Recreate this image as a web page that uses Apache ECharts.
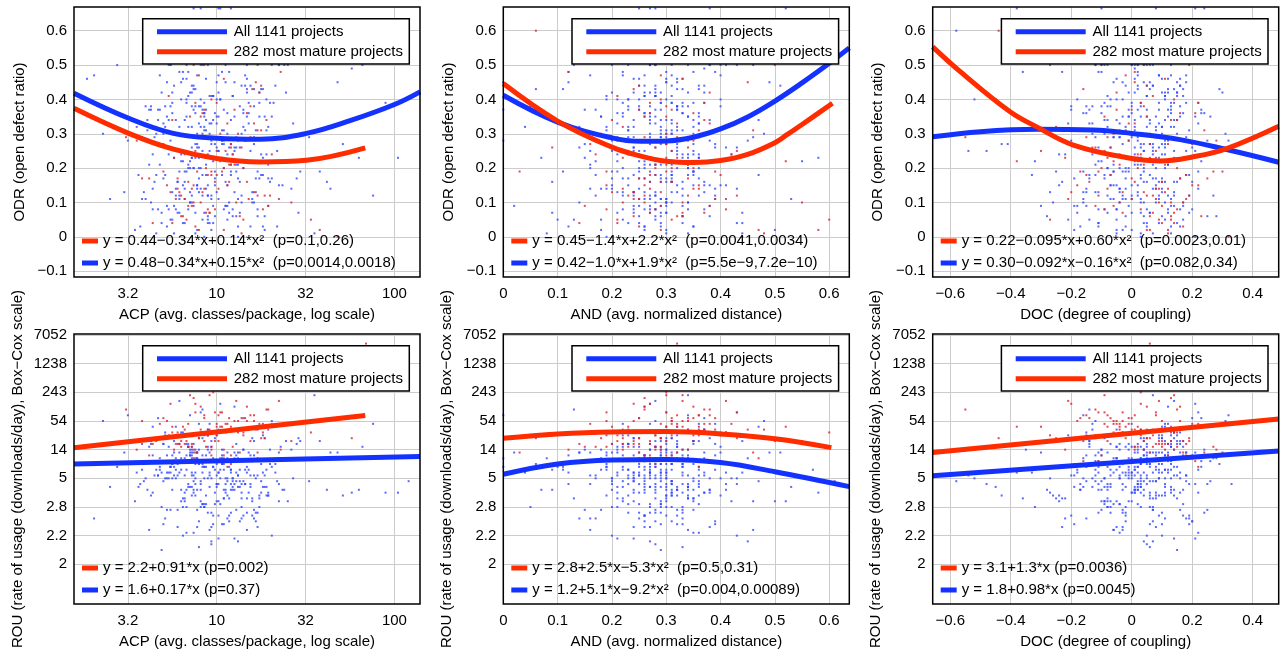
<!DOCTYPE html>
<html><head><meta charset="utf-8">
<script src="https://cdn.jsdelivr.net/npm/echarts@6.0.0/dist/echarts.min.js"></script>
<style>html,body{margin:0;padding:0;background:#fff}#c{width:1285px;height:655px}</style>
</head><body><div id="c"></div>
<script>
// ---------------- tick labels ----------------
const acpTickValues = [0.5, 1, 1.5, 2];
const acpTickLabels = ['3.2', '10', '32', '100'];
const andTickValues = [0, 0.1, 0.2, 0.3, 0.4, 0.5, 0.6];
const andTickLabels = ['0', '0.1', '0.2', '0.3', '0.4', '0.5', '0.6'];
const docTickValues = [-0.6, -0.4, -0.2, 0, 0.2, 0.4];
const docTickLabels = ['\u22120.6', '\u22120.4', '\u22120.2', '0', '0.2', '0.4'];
const odrTickValues = [-0.1, 0, 0.1, 0.2, 0.3, 0.4, 0.5, 0.6];
const odrTickLabels = ['\u22120.1', '0', '0.1', '0.2', '0.3', '0.4', '0.5', '0.6'];
const rouTickValues = [0, 1, 2, 3, 4, 5, 6, 7, 8];
const rouTickLabels = ['2', '2.2', '2.8', '5', '14', '54', '243', '1238', '7052'];

// ---------------- projects: all (blue) ----------------
// ACP as log10(classes/package); ROU in Box-Cox tick units
const blueACP = [
0.92,1.08,0.75,1.21,0.98,0.66,1.35,0.87,1.03,0.81,1.14,0.95,0.71,1.27,0.89,1.01,0.58,1.18,0.84,0.97,
1.11,0.78,0.93,1.42,0.69,1.06,0.88,1.24,0.99,0.73,1.16,0.85,1.31,0.62,0.94,1.09,0.79,1.19,0.91,0.48,
1.04,0.83,1.26,0.96,0.72,1.13,0.86,1.82,0.64,1.00,0.90,1.22,0.77,1.07,0.82,1.52,0.95,0.68,1.15,0.87,
0.99,1.29,0.74,1.05,0.89,1.18,0.56,0.93,1.10,0.80,1.33,0.97,0.70,1.02,0.84,1.23,0.91,0.65,1.12,1.76,
0.86,1.06,0.76,1.20,0.94,0.61,1.39,0.88,1.01,0.79,1.17,0.96,0.72,1.28,0.90,1.04,0.27,1.14,0.83,0.98,
1.09,0.77,0.92,1.45,0.67,1.08,0.85,1.25,1.00,0.74,1.15,0.87,1.32,0.63,0.95,1.11,0.81,1.21,0.89,0.36,
1.03,0.82,1.27,0.97,0.31,1.12,0.88,1.36,0.66,0.99,0.91,1.23,0.78,1.06,0.84,1.58,0.93,0.69,1.16,0.86,
1.00,1.30,0.75,1.04,0.90,1.19,0.59,0.94,1.08,0.81,1.34,0.96,0.70,1.02,0.85,1.24,0.92,0.64,1.13,1.95,
0.87,1.05,0.77,1.22,0.95,0.60,1.71,0.89,1.02,0.80,1.17,0.98,0.73,1.26,0.91,1.03,0.54,1.15,0.82,0.97,
1.10,0.79,0.93,1.47,0.68,1.07,0.86,1.26,1.01,0.75,1.14,0.88,1.31,0.62,0.96,1.10,0.80,1.20,0.90,0.44,
1.05,0.83,1.28,0.95,0.72,1.11,0.87,1.88,0.65,1.00,0.92,1.21,0.76,1.08,0.83,1.64,0.94,0.67,1.17,0.85,
0.98,1.29,0.74,1.03,0.89,1.18,0.57,0.92,1.09,0.82,1.35,0.97,0.71,1.01,0.86,1.25,0.93,0.63,1.12,2.08,
0.94,1.13,0.79,1.02,0.86,1.20,0.70,0.97,1.07,0.83,1.29,0.91,0.76,1.04,0.88,1.17,0.60,1.00,1.11,0.81,
1.06,0.89,1.24,0.73,0.99,1.15,0.85,1.38,0.95,0.67,1.09,0.92,1.30,0.78,1.03,0.87,1.21,0.55,1.14,1.68,
0.90,1.01,0.80,1.19,0.96,0.71,1.33,0.84,1.05,0.93,1.12,0.77,1.26,0.88,0.99,1.43,0.74,1.08,0.86,0.40,
1.02,0.82,1.16,0.95,0.69,1.10,0.91,1.27,0.79,1.04,0.87,1.22,0.63,0.98,1.13,0.85,1.35,0.93,0.72,1.80,
0.97,1.09,0.75,1.23,0.89,1.00,0.66,1.18,0.83,1.06,0.94,1.31,0.78,1.01,0.88,1.14,0.58,1.25,0.92,1.55,
1.08,0.86,1.20,0.97,0.73,1.11,0.90,1.37,0.81,1.03,0.95,1.17,0.68,1.05,0.84,1.28,0.99,0.76,1.12,0.50,
0.93,1.04,0.82,1.21,0.98,0.64,1.34,0.87,1.07,0.91,1.15,0.79,1.24,0.85,1.00,1.46,0.75,1.10,0.89,2.02,
1.01,0.84,1.19,0.94,0.70,1.12,0.88,1.29,0.80,1.06,0.92,1.23,0.61,0.96,1.16,0.86,1.40,0.90,0.74,1.62];
const blueAND = [
0.27,0.31,0.22,0.35,0.19,0.29,0.41,0.25,0.33,0.17,0.28,0.37,0.23,0.30,0.14,0.26,0.39,0.21,0.32,0.45,
0.24,0.29,0.36,0.18,0.27,0.33,0.08,0.31,0.25,0.43,0.20,0.34,0.28,0.16,0.30,0.38,0.23,0.26,0.52,0.32,
0.29,0.21,0.35,0.27,0.12,0.31,0.24,0.40,0.28,0.19,0.33,0.26,0.47,0.22,0.30,0.36,0.25,0.00,0.34,0.28,
0.23,0.32,0.27,0.38,0.15,0.29,0.34,0.20,0.26,0.42,0.31,0.24,0.35,0.18,0.28,0.33,0.05,0.30,0.25,0.37,
0.30,0.22,0.36,0.26,0.19,0.32,0.28,0.44,0.24,0.31,0.13,0.27,0.35,0.21,0.29,0.39,0.25,0.33,0.57,0.28,
0.26,0.34,0.23,0.30,0.17,0.28,0.37,0.25,0.32,0.10,0.29,0.36,0.22,0.31,0.27,0.41,0.20,0.33,0.26,0.48,
0.31,0.24,0.29,0.38,0.16,0.27,0.34,0.21,0.30,0.26,0.43,0.23,0.32,0.02,0.28,0.35,0.19,0.29,0.25,0.36,
0.28,0.33,0.20,0.27,0.39,0.24,0.31,0.15,0.29,0.35,0.26,0.46,0.22,0.30,0.34,0.18,0.27,0.32,0.09,0.37,
0.25,0.30,0.36,0.23,0.28,0.40,0.19,0.32,0.27,0.34,0.11,0.29,0.38,0.24,0.31,0.26,0.50,0.21,0.33,0.28,
0.32,0.26,0.29,0.35,0.22,0.30,0.14,0.27,0.37,0.24,0.31,0.42,0.20,0.28,0.33,0.25,0.00,0.30,0.36,0.27,
0.29,0.23,0.34,0.28,0.18,0.31,0.26,0.39,0.21,0.30,0.35,0.25,0.44,0.27,0.32,0.16,0.29,0.37,0.24,0.55,
0.27,0.33,0.22,0.30,0.38,0.26,0.12,0.31,0.28,0.35,0.20,0.29,0.41,0.25,0.34,0.06,0.30,0.23,0.36,0.61,
0.26,0.32,0.21,0.29,0.37,0.24,0.31,0.18,0.28,0.34,0.23,0.40,0.27,0.30,0.15,0.33,0.25,0.36,0.20,0.43,
0.30,0.25,0.34,0.28,0.19,0.32,0.26,0.38,0.22,0.29,0.35,0.13,0.31,0.27,0.45,0.24,0.30,0.04,0.33,0.49,
0.28,0.22,0.35,0.26,0.31,0.17,0.29,0.39,0.24,0.33,0.27,0.20,0.36,0.30,0.25,0.42,0.28,0.11,0.32,0.53,
0.25,0.31,0.23,0.36,0.27,0.30,0.16,0.34,0.28,0.21,0.38,0.26,0.32,0.44,0.24,0.29,0.35,0.19,0.30,0.07,
0.29,0.24,0.33,0.27,0.40,0.22,0.31,0.26,0.35,0.18,0.30,0.28,0.37,0.23,0.32,0.14,0.27,0.47,0.25,0.34,
0.31,0.26,0.29,0.36,0.21,0.33,0.27,0.41,0.24,0.30,0.17,0.34,0.28,0.38,0.22,0.31,0.25,0.51,0.29,0.00,
0.27,0.34,0.23,0.30,0.26,0.39,0.20,0.32,0.28,0.35,0.25,0.12,0.31,0.29,0.43,0.24,0.33,0.21,0.37,0.58,
0.30,0.24,0.36,0.28,0.32,0.19,0.27,0.34,0.23,0.40,0.29,0.26,0.35,0.16,0.31,0.28,0.46,0.22,0.33,0.09];
const blueDOC = [
0.02,-0.08,0.11,-0.03,0.15,-0.14,0.05,-0.01,0.19,-0.11,0.07,-0.05,0.13,-0.19,0.01,0.09,-0.07,0.22,-0.02,0.04,
-0.12,0.06,0.17,-0.04,0.10,-0.22,0.03,0.14,-0.09,0.00,0.25,-0.16,0.08,-0.06,0.12,-0.28,0.05,0.18,-0.10,0.02,
0.09,-0.02,0.13,-0.13,0.04,0.20,-0.07,0.01,0.16,-0.18,0.06,-0.04,0.11,-0.36,0.03,0.08,-0.11,0.23,-0.01,0.14,
-0.06,0.10,0.00,-0.15,0.07,0.18,-0.09,0.03,0.12,-0.24,0.05,-0.03,0.15,-0.12,0.02,0.28,-0.08,0.09,-0.20,0.01,
0.04,-0.10,0.14,-0.02,0.08,-0.17,0.11,0.00,0.21,-0.06,0.06,-0.13,0.16,-0.45,0.03,0.10,-0.05,0.19,-0.01,0.07,
-0.08,0.12,0.02,-0.14,0.05,0.24,-0.11,0.01,0.15,-0.21,0.08,-0.04,0.13,-0.26,0.04,0.09,-0.07,0.17,-0.03,0.31,
0.06,-0.09,0.10,-0.01,0.18,-0.16,0.03,0.13,-0.05,0.00,0.22,-0.12,0.07,-0.30,0.11,0.04,-0.08,0.15,-0.02,0.09,
-0.04,0.14,0.01,-0.11,0.07,0.20,-0.15,0.02,0.12,-0.23,0.05,-0.06,0.16,-0.52,0.03,0.26,-0.09,0.10,-0.18,0.00,
0.08,-0.03,0.12,-0.07,0.17,-0.13,0.04,0.00,0.21,-0.10,0.06,-0.19,0.14,-0.33,0.02,0.11,-0.05,0.24,-0.02,0.05,
-0.11,0.09,0.03,-0.16,0.13,0.19,-0.08,0.01,0.15,-0.27,0.06,-0.03,0.10,-0.14,0.04,0.33,-0.06,0.08,-0.21,0.02,
0.05,-0.07,0.11,-0.02,0.16,-0.12,0.07,0.00,0.18,-0.09,0.03,-0.15,0.13,-0.41,0.01,0.10,-0.04,0.20,-0.01,0.06,
-0.05,0.13,0.02,-0.10,0.08,0.23,-0.17,0.04,0.11,-0.25,0.07,-0.02,0.14,-0.38,0.03,0.29,-0.08,0.12,-0.19,-0.58,
0.01,-0.07,0.12,-0.04,0.16,-0.12,0.06,0.00,0.20,-0.10,0.08,-0.03,0.14,-0.17,0.02,0.10,-0.06,0.21,-0.01,0.05,
-0.09,0.07,0.15,-0.05,0.11,-0.20,0.04,0.13,-0.08,0.01,0.26,-0.14,0.09,-0.23,0.12,0.03,0.17,-0.02,-0.32,0.06,
0.10,-0.01,0.14,-0.11,0.05,0.19,-0.06,0.02,0.17,-0.15,0.07,-0.04,0.12,-0.43,0.04,0.09,-0.10,0.22,0.00,0.13,
-0.05,0.11,0.01,-0.13,0.06,0.18,-0.08,0.03,0.14,-0.22,0.08,-0.02,0.16,-0.11,0.03,0.30,-0.07,0.10,-0.18,0.02,
0.03,-0.09,0.13,-0.03,0.09,-0.16,0.10,0.01,0.22,-0.05,0.06,-0.12,0.15,-0.48,0.02,0.11,-0.04,0.18,-0.01,0.07,
-0.07,0.12,0.00,-0.14,0.07,0.25,-0.10,0.02,0.16,-0.19,0.09,-0.03,0.12,-0.27,0.05,0.08,-0.06,0.16,-0.02,0.32,
0.05,-0.08,0.09,0.00,0.17,-0.15,0.04,0.13,-0.04,0.01,0.23,-0.11,0.07,-0.35,0.11,0.03,-0.09,0.14,-0.01,0.08,
-0.03,0.13,0.02,-0.12,0.06,0.21,-0.16,0.03,0.11,-0.24,0.05,-0.05,0.15,-0.54,0.02,0.27,-0.08,0.11,-0.20,0.04];
const blueODR = [
0.12,0.34,0.05,0.27,0.41,0.18,0.50,0.09,0.31,0.22,0.44,0.15,0.38,0.02,0.26,0.47,0.11,0.33,0.20,0.60,
0.29,0.07,0.36,0.14,0.42,0.24,0.01,0.39,0.17,0.50,0.28,0.10,0.35,0.21,0.46,0.06,0.32,0.25,0.665,0.13,
0.37,0.19,0.03,0.30,0.45,0.16,0.26,0.50,0.08,0.40,0.23,0.13,0.34,0.48,0.11,0.29,0.04,0.37,0.20,0.43,
0.15,0.32,0.50,0.09,0.27,0.39,0.18,0.00,0.35,0.24,0.44,0.12,0.30,0.57,0.21,0.06,0.38,0.16,0.28,0.49,
0.10,0.36,0.23,0.60,0.14,0.31,0.42,0.07,0.25,0.19,0.50,0.33,0.03,0.40,0.17,0.27,0.46,0.12,0.35,0.22,
0.41,0.08,0.29,0.17,0.37,0.665,0.13,0.24,0.45,0.05,0.32,0.20,0.39,0.10,0.50,0.26,0.15,0.43,0.02,0.30,
0.18,0.34,0.06,0.28,0.47,0.11,0.38,0.22,0.01,0.36,0.14,0.50,0.25,0.09,0.41,0.19,0.31,0.04,0.44,0.23,
0.33,0.16,0.42,0.08,0.26,0.60,0.13,0.37,0.21,0.48,0.03,0.29,0.17,0.40,0.10,0.35,0.50,0.24,0.07,0.39,
0.20,0.45,0.12,0.31,0.05,0.38,0.27,0.15,0.665,0.22,0.43,0.09,0.34,0.18,0.50,0.28,0.02,0.36,0.14,0.41,
0.26,0.11,0.39,0.19,0.47,0.07,0.32,0.23,0.42,0.13,0.30,0.54,0.17,0.37,0.04,0.25,0.45,0.10,0.33,0.50,
0.16,0.40,0.24,0.06,0.35,0.21,0.44,0.12,0.29,0.60,0.18,0.38,0.01,0.27,0.46,0.14,0.31,0.08,0.42,0.22,
0.34,0.09,0.28,0.48,0.15,0.36,0.03,0.25,0.41,0.19,0.50,0.11,0.32,0.665,0.23,0.43,0.07,0.37,0.17,0.60,
0.21,0.38,0.07,0.29,0.44,0.13,0.33,0.02,0.26,0.50,0.17,0.40,0.09,0.31,0.23,0.46,0.11,0.35,0.19,0.04,
0.30,0.14,0.42,0.08,0.27,0.37,0.20,0.50,0.12,0.34,0.24,0.05,0.39,0.16,0.28,0.60,0.10,0.32,0.22,0.45,
0.13,0.35,0.25,0.03,0.41,0.18,0.29,0.48,0.09,0.36,0.21,0.14,0.43,0.27,0.06,0.33,0.50,0.19,0.38,0.11,
0.40,0.16,0.31,0.24,0.07,0.45,0.20,0.35,0.12,0.28,0.665,0.17,0.38,0.04,0.26,0.42,0.15,0.32,0.09,0.23,
0.27,0.08,0.36,0.19,0.47,0.13,0.30,0.22,0.39,0.05,0.34,0.50,0.16,0.25,0.43,0.10,0.29,0.18,0.37,0.01,
0.18,0.42,0.11,0.33,0.24,0.06,0.38,0.15,0.46,0.27,0.12,0.35,0.21,0.50,0.08,0.31,0.19,0.44,0.03,0.28,
0.35,0.20,0.04,0.29,0.41,0.14,0.25,0.37,0.10,0.32,0.22,0.48,0.17,0.60,0.26,0.07,0.39,0.13,0.30,0.23,
0.11,0.32,0.44,0.18,0.27,0.00,0.36,0.21,0.40,0.15,0.30,0.08,0.34,0.25,0.47,0.12,0.50,0.20,0.38,0.16];
const blueROU = [
3.2,2.6,3.8,1.9,3.4,4.3,2.8,3.1,1.4,3.6,2.3,4.7,3.0,2.7,3.9,1.7,3.3,2.5,4.1,0.8,
2.9,3.5,2.1,4.0,3.2,1.6,3.7,2.4,4.4,3.0,2.8,5.2,3.4,1.2,3.6,2.6,4.2,3.1,2.2,3.9,
3.3,2.0,4.5,2.7,3.8,1.5,3.1,4.1,2.5,3.5,0.6,3.0,4.8,2.3,3.7,2.9,1.8,3.4,4.0,2.6,
3.6,2.4,3.2,4.6,1.9,3.9,2.7,3.0,5.5,2.2,3.5,1.3,4.2,3.3,2.8,3.7,2.0,4.4,3.1,2.5,
4.0,2.9,3.4,1.7,3.8,2.6,4.3,3.2,0.9,3.6,2.3,4.9,3.0,2.7,3.5,1.4,4.1,2.8,3.3,6.1,
2.7,3.7,2.1,4.2,3.1,1.8,3.9,2.5,4.5,3.4,2.9,1.1,3.6,2.4,4.0,3.2,2.0,3.8,2.6,5.0,
3.5,2.2,4.4,3.0,1.6,3.7,2.8,4.1,3.3,2.5,5.3,3.1,1.9,3.9,2.7,4.3,3.4,0.5,3.6,2.4,
3.1,4.0,2.6,3.5,1.5,3.8,2.9,4.6,3.2,2.3,3.7,1.2,4.2,3.0,2.7,3.6,2.1,4.8,3.3,2.5,
3.9,2.8,3.3,1.8,4.1,3.0,2.4,3.7,5.6,2.6,3.4,1.4,4.4,3.2,2.9,3.8,2.2,4.0,3.1,0.7,
2.6,3.6,2.0,4.3,3.3,1.7,3.9,2.7,4.7,3.0,2.5,3.5,1.0,4.1,3.2,2.8,3.7,2.3,4.5,3.4,
3.0,4.2,2.4,3.6,1.9,3.8,2.9,4.9,3.1,2.2,3.5,1.6,4.3,3.3,2.6,3.9,2.1,5.1,3.2,6.3,
3.7,2.5,3.4,4.0,1.3,3.6,2.8,4.4,3.0,2.3,3.9,1.8,4.6,3.2,2.7,3.5,2.0,4.2,3.1,2.9,
3.4,2.7,3.9,2.1,3.2,4.4,2.9,3.6,1.5,3.8,2.4,4.6,3.1,2.6,4.0,1.8,3.5,2.8,4.2,1.0,
3.0,3.6,2.3,4.1,3.3,1.7,3.8,2.6,4.5,3.1,2.9,5.4,3.5,1.3,3.7,2.5,4.3,3.2,2.0,3.9,
3.5,2.2,4.6,2.8,3.9,1.6,3.2,4.2,2.6,3.4,0.8,3.0,4.9,2.4,3.6,3.0,1.9,3.3,4.1,2.7,
3.7,2.5,3.3,4.7,2.0,3.9,2.8,3.1,5.7,2.3,3.6,1.5,4.3,3.4,2.9,3.8,2.2,4.5,3.2,2.6,
4.1,3.0,3.5,1.8,3.9,2.7,4.4,3.3,1.1,3.7,2.4,5.0,3.1,2.8,3.6,1.6,4.2,2.9,3.4,5.9,
2.8,3.8,2.2,4.3,3.2,1.9,4.0,2.6,4.6,3.5,3.0,1.2,3.7,2.5,4.1,3.3,2.1,3.9,2.7,5.2,
3.6,2.3,4.5,3.1,1.7,3.8,2.9,4.2,3.4,2.6,5.1,3.2,2.0,4.0,2.8,4.4,3.5,0.9,3.7,2.5,
3.2,4.1,2.7,3.6,1.4,3.9,3.0,4.7,3.3,2.4,3.8,1.3,4.3,3.1,2.8,3.7,2.2,4.9,3.4,2.6];

// ---------------- projects: most mature (red) ----------------
const redACP = [
0.95,1.12,0.78,1.25,0.88,1.03,0.69,1.18,0.92,1.07,0.83,1.31,0.97,0.74,1.15,0.86,1.01,0.62,1.22,0.90,
1.05,0.80,1.28,0.94,1.10,0.72,1.19,0.87,1.00,1.36,0.81,1.08,0.93,0.66,1.14,0.98,0.77,1.24,0.89,1.84,
0.99,1.16,0.75,1.04,0.91,1.27,0.84,1.09,0.58,1.20,0.96,1.02,0.79,1.33,0.87,1.11,0.71,1.06,0.93,1.53,
1.08,0.82,1.21,0.95,1.13,0.68,1.01,0.88,1.26,0.76,1.17,0.90,1.04,0.49,1.23,0.97,0.85,1.42,1.00,1.68,
0.92,1.14,0.80,1.06,0.97,1.29,0.73,1.02,0.87,1.19,0.64,1.10,0.94,1.35,0.82,1.04,0.99,1.23,0.78,1.58,
1.03,0.86,1.17,0.91,1.08,0.70,1.25,0.96,1.12,0.84,1.00,1.30,0.88,1.15,0.75,1.07,0.93,1.21,0.55,1.76];
const redAND = [
0.28,0.33,0.22,0.36,0.25,0.30,0.18,0.39,0.27,0.31,0.21,0.42,0.29,0.24,0.35,0.15,0.32,0.26,0.45,0.29,
0.31,0.23,0.37,0.27,0.34,0.19,0.30,0.26,0.40,0.12,0.33,0.28,0.36,0.22,0.48,0.30,0.25,0.38,0.03,0.32,
0.27,0.35,0.21,0.31,0.26,0.43,0.29,0.17,0.34,0.24,0.37,0.30,0.20,0.52,0.28,0.33,0.09,0.36,0.25,0.60,
0.30,0.24,0.38,0.28,0.32,0.16,0.35,0.27,0.41,0.22,0.31,0.29,0.47,0.26,0.34,0.19,0.30,0.55,0.23,0.44,
0.29,0.34,0.24,0.32,0.27,0.38,0.21,0.30,0.26,0.36,0.14,0.31,0.28,0.41,0.23,0.33,0.19,0.46,0.25,0.58,
0.32,0.27,0.35,0.22,0.30,0.39,0.25,0.33,0.18,0.29,0.37,0.26,0.43,0.31,0.20,0.28,0.50,0.24,0.34,0.06];
const redDOC = [
0.03,-0.06,0.12,-0.02,0.17,-0.11,0.06,0.00,0.21,-0.14,0.09,-0.04,0.14,-0.20,0.02,0.10,-0.08,0.25,0.01,0.05,
-0.09,0.07,0.15,-0.03,0.11,-0.18,0.04,0.13,-0.07,0.01,0.23,-0.13,0.08,-0.25,0.12,0.03,0.18,-0.05,0.30,0.06,
0.10,-0.01,0.14,-0.10,0.05,0.19,-0.06,0.02,0.16,-0.16,0.07,-0.03,0.11,-0.38,0.04,0.09,-0.12,0.22,0.00,0.13,
-0.04,0.08,0.01,-0.15,0.06,0.20,-0.08,0.03,0.15,-0.22,0.10,-0.02,0.12,-0.55,0.05,0.27,-0.09,0.17,-0.30,0.32,
0.04,-0.07,0.13,-0.01,0.18,-0.12,0.07,0.02,0.20,-0.15,0.10,-0.05,0.15,-0.21,0.03,0.11,-0.09,0.24,0.00,0.06,
-0.08,0.09,0.16,-0.04,0.12,-0.17,0.05,0.14,-0.06,0.01,0.22,-0.11,0.08,-0.27,0.13,0.04,0.19,-0.03,0.28,-0.44];
const redODR = [
0.08,0.22,0.14,0.31,0.03,0.19,0.27,0.11,0.36,0.16,0.05,0.24,0.40,0.13,0.20,0.09,0.29,0.17,0.45,0.02,
0.25,0.12,0.34,0.07,0.21,0.15,0.38,0.10,0.18,0.48,0.06,0.26,0.14,0.32,0.01,0.23,0.11,0.42,0.19,0.60,
0.16,0.28,0.04,0.20,0.35,0.12,0.09,0.24,0.17,0.43,0.07,0.30,0.13,0.22,0.50,0.10,0.26,0.15,0.37,0.05,
0.21,0.11,0.33,0.18,0.06,0.27,0.14,0.39,0.08,0.23,0.16,0.47,0.02,0.29,0.12,0.19,0.35,0.10,0.25,0.00,
0.13,0.26,0.06,0.33,0.18,0.09,0.41,0.22,0.15,0.29,0.04,0.37,0.20,0.11,0.24,0.46,0.08,0.31,0.17,0.02,
0.23,0.14,0.36,0.10,0.27,0.19,0.44,0.07,0.30,0.16,0.39,0.12,0.25,0.05,0.34,0.21,0.50,0.13,0.28,0.60];
const redROU = [
4.5,5.0,4.2,4.8,3.9,5.3,4.4,4.7,3.6,5.1,4.3,4.9,4.0,5.6,4.6,4.1,5.2,3.8,4.7,4.4,
4.9,4.1,5.4,4.6,3.7,5.0,4.3,5.8,4.5,4.0,4.8,3.5,5.2,4.4,4.7,6.0,4.2,4.9,3.9,7.7,
4.3,5.1,4.6,3.8,5.5,4.4,4.9,4.1,5.0,3.6,4.7,5.3,4.2,4.8,4.0,5.7,4.5,3.4,5.1,4.6,
4.8,4.2,5.2,4.5,3.9,4.9,4.3,5.6,4.6,4.0,5.0,4.4,3.7,5.4,4.7,4.1,5.9,4.3,4.8,6.2,
4.6,5.1,4.3,4.9,3.8,5.4,4.5,4.8,3.7,5.2,4.2,5.0,4.1,5.7,4.7,4.0,5.3,3.9,4.6,6.4,
4.8,4.2,5.5,4.7,3.8,5.1,4.4,5.9,4.6,4.1,4.9,3.6,5.3,4.5,4.8,6.1,4.3,5.0,4.0,4.4];

// ---------------- fitted curves ----------------
const fitOdrAcpBlueX = [0.197,0.505,0.756,1.0,1.244,1.505,1.75,2.0,2.144];
const fitOdrAcpBlueY = [0.418,0.345,0.301,0.287,0.284,0.301,0.338,0.385,0.422];
const fitOdrAcpRedX = [0.197,0.505,0.756,1.0,1.244,1.505,1.836];
const fitOdrAcpRedY = [0.374,0.301,0.255,0.228,0.218,0.223,0.259];
const fitOdrAndBlueX = [0,0.1,0.2,0.253,0.3,0.35,0.4,0.45,0.5,0.55,0.6,0.637];
const fitOdrAndBlueY = [0.412,0.334,0.288,0.278,0.279,0.290,0.314,0.349,0.395,0.448,0.505,0.550];
const fitOdrAndRedX = [0,0.1,0.2,0.253,0.3,0.35,0.4,0.45,0.5,0.523,0.55,0.606];
const fitOdrAndRedY = [0.446,0.337,0.261,0.235,0.220,0.216,0.222,0.240,0.274,0.298,0.327,0.389];
const fitOdrDocBlueX = [-0.658,-0.5,-0.314,-0.127,0,0.16,0.314,0.486];
const fitOdrDocBlueY = [0.291,0.306,0.313,0.311,0.301,0.283,0.254,0.217];
const fitOdrDocRedX = [-0.658,-0.567,-0.402,-0.314,-0.193,0,0.094,0.204,0.314,0.486];
const fitOdrDocRedY = [0.553,0.481,0.364,0.320,0.267,0.228,0.221,0.233,0.257,0.322];
const fitRouAcpBlueX = [0.197,2.144];
const fitRouAcpBlueY = [3.50,3.76];
const fitRouAcpRedX = [0.197,1.836];
const fitRouAcpRedY = [4.07,5.19];
const fitRouAndBlueX = [0,0.1,0.2,0.3,0.4,0.5,0.637];
const fitRouAndBlueY = [3.14,3.50,3.64,3.66,3.55,3.23,2.71];
const fitRouAndRedX = [0,0.1,0.2,0.3,0.4,0.5,0.604];
const fitRouAndRedY = [4.40,4.55,4.62,4.63,4.55,4.38,4.07];
const fitRouDocBlueX = [-0.658,0.486];
const fitRouDocBlueY = [3.09,3.95];
const fitRouDocRedX = [-0.658,0.486];
const fitRouDocRedY = [3.90,5.07];

const legendAll = 'All 1141 projects';
const legendMature = '282 most mature projects';
const equations = [
  ['y = 0.44\u22120.34*x+0.14*x\u00B2  (p=0.1,0.26)', 'y = 0.48\u22120.34*x+0.15*x\u00B2  (p=0.0014,0.0018)'],
  ['y = 0.45\u22121.4*x+2.2*x\u00B2  (p=0.0041,0.0034)', 'y = 0.42\u22121.0*x+1.9*x\u00B2  (p=5.5e\u22129,7.2e\u221210)'],
  ['y = 0.22\u22120.095*x+0.60*x\u00B2  (p=0.0023,0.01)', 'y = 0.30\u22120.092*x\u22120.16*x\u00B2  (p=0.082,0.34)'],
  ['y = 2.2+0.91*x (p=0.002)', 'y = 1.6+0.17*x (p=0.37)'],
  ['y = 2.8+2.5*x\u22125.3*x\u00B2  (p=0.5,0.31)', 'y = 1.2+5.1*x\u22129.2*x\u00B2  (p=0.004,0.00089)'],
  ['y = 3.1+1.3*x (p=0.0036)', 'y = 1.8+0.98*x (p=0.0045)']
];

// ---------------- build ----------------
const FONT = '"Liberation Sans", Arial, Helvetica, sans-serif';
const BLUE_DOT = '#2f45ff', RED_DOT = '#d8202c';
const BLUE_LINE = '#1432ff', RED_LINE = '#ff2c00';
const L = [74, 503.3, 932.7], T = [7, 334], W = 346, H = 270;

const cols = [
  {vals: acpTickValues, labels: acpTickLabels, min: 0.197, max: 2.144, name: 'ACP (avg. classes/package, log scale)', blue: blueACP, red: redACP},
  {vals: andTickValues, labels: andTickLabels, min: 0, max: 0.637, name: 'AND (avg. normalized distance)', blue: blueAND, red: redAND},
  {vals: docTickValues, labels: docTickLabels, min: -0.658, max: 0.486, name: 'DOC (degree of coupling)', blue: blueDOC, red: redDOC}
];
const rows = [
  {vals: odrTickValues, labels: odrTickLabels, min: -0.117, max: 0.669, name: 'ODR (open defect ratio)', blue: blueODR, red: redODR, gap: 47},
  {vals: rouTickValues, labels: rouTickLabels, min: -1.385, max: 8.035, name: 'ROU (rate of usage (downloads/day), Box\u2212Cox scale)', blue: blueROU, red: redROU, gap: 49}
];
const fits = [
  [[fitOdrAcpBlueX, fitOdrAcpBlueY], [fitOdrAcpRedX, fitOdrAcpRedY]],
  [[fitOdrAndBlueX, fitOdrAndBlueY], [fitOdrAndRedX, fitOdrAndRedY]],
  [[fitOdrDocBlueX, fitOdrDocBlueY], [fitOdrDocRedX, fitOdrDocRedY]],
  [[fitRouAcpBlueX, fitRouAcpBlueY], [fitRouAcpRedX, fitRouAcpRedY]],
  [[fitRouAndBlueX, fitRouAndBlueY], [fitRouAndRedX, fitRouAndRedY]],
  [[fitRouDocBlueX, fitRouDocBlueY], [fitRouDocRedX, fitRouDocRedY]]
];

function fmt(vals, labels) {
  return function (v) {
    for (let i = 0; i < vals.length; i++) if (Math.abs(vals[i] - v) < 1e-6) return labels[i];
    return '';
  };
}
function zip(xs, ys) { return xs.map((x, i) => [x, ys[i]]); }

const grids = [], xAxes = [], yAxes = [], series = [], graphics = [];
const txt = {color: '#000', fontSize: 15, fontFamily: FONT};

for (let p = 0; p < 6; p++) {
  const c = p % 3, r = Math.floor(p / 3);
  const cd = cols[c], rd = rows[r];
  grids.push({left: L[c], top: T[r], width: W, height: H, show: false});
  xAxes.push({
    type: 'value', gridIndex: p, min: cd.min, max: cd.max,
    axisLine: {show: false}, axisTick: {show: false, customValues: cd.vals},
    axisLabel: Object.assign({customValues: cd.vals, formatter: fmt(cd.vals, cd.labels), margin: 9}, txt),
    splitLine: {show: true, lineStyle: {color: '#cccccc', width: 1}},
    name: cd.name, nameLocation: 'middle', nameGap: 30, nameTextStyle: txt
  });
  yAxes.push({
    type: 'value', gridIndex: p, min: rd.min, max: rd.max,
    axisLine: {show: false}, axisTick: {show: false, customValues: rd.vals},
    axisLabel: Object.assign({customValues: rd.vals, formatter: fmt(rd.vals, rd.labels), margin: 7}, txt),
    splitLine: {show: true, lineStyle: {color: '#cccccc', width: 1}},
    name: rd.name, nameLocation: 'middle', nameGap: rd.gap, nameTextStyle: txt
  });
  series.push({type: 'scatter', xAxisIndex: p, yAxisIndex: p, symbol: 'rect', symbolSize: 2,
    itemStyle: {color: BLUE_DOT}, data: zip(cd.blue, rd.blue), silent: true, z: 2});
  series.push({type: 'scatter', xAxisIndex: p, yAxisIndex: p, symbol: 'rect', symbolSize: 2,
    itemStyle: {color: RED_DOT}, data: zip(cd.red, rd.red), silent: true, z: 2});
  series.push({type: 'line', xAxisIndex: p, yAxisIndex: p, smooth: 0.4, showSymbol: false, symbol: 'none',
    lineStyle: {color: BLUE_LINE, width: 5}, data: zip(fits[p][0][0], fits[p][0][1]), silent: true, z: 3});
  series.push({type: 'line', xAxisIndex: p, yAxisIndex: p, smooth: 0.4, showSymbol: false, symbol: 'none',
    lineStyle: {color: RED_LINE, width: 5}, data: zip(fits[p][1][0], fits[p][1][1]), silent: true, z: 4});

  // frame
  graphics.push({type: 'rect', shape: {x: L[c], y: T[r], width: W, height: H},
    style: {fill: null, stroke: '#000', lineWidth: 1.5}, z: 80, silent: true});
  // legend box
  const bx = L[c] + 68.7, by = T[r] + 11.7;
  graphics.push({type: 'rect', shape: {x: bx, y: by, width: 266.6, height: 45.3},
    style: {fill: '#fff', stroke: '#000', lineWidth: 1.5}, z: 90, silent: true});
  [[legendAll, BLUE_LINE, 13], [legendMature, RED_LINE, 33]].forEach(([t, col, dy]) => {
    graphics.push({type: 'rect', shape: {x: bx + 14.3, y: by + dy - 2.5, width: 70, height: 5},
      style: {fill: col}, z: 91, silent: true});
    graphics.push({type: 'text', x: bx + 91, y: by + dy, z: 92, silent: true,
      style: {text: t, fill: '#000', font: '15px ' + FONT, verticalAlign: 'middle', align: 'left'}});
  });
  // equations
  [[equations[p][0], RED_LINE, 234], [equations[p][1], BLUE_LINE, 256]].forEach(([t, col, dy]) => {
    graphics.push({type: 'rect', shape: {x: L[c] + 8, y: T[r] + dy - 2.5, width: 16, height: 5},
      style: {fill: col}, z: 91, silent: true});
    graphics.push({type: 'text', x: L[c] + 29, y: T[r] + dy, z: 92, silent: true,
      style: {text: t, fill: '#000', font: '15px ' + FONT, verticalAlign: 'middle', align: 'left'}});
  });
}

const chart = echarts.init(document.getElementById('c'));
chart.setOption({
  animation: false,
  backgroundColor: '#fff',
  grid: grids, xAxis: xAxes, yAxis: yAxes, series: series,
  graphic: {elements: graphics}
});
</script></body></html>
